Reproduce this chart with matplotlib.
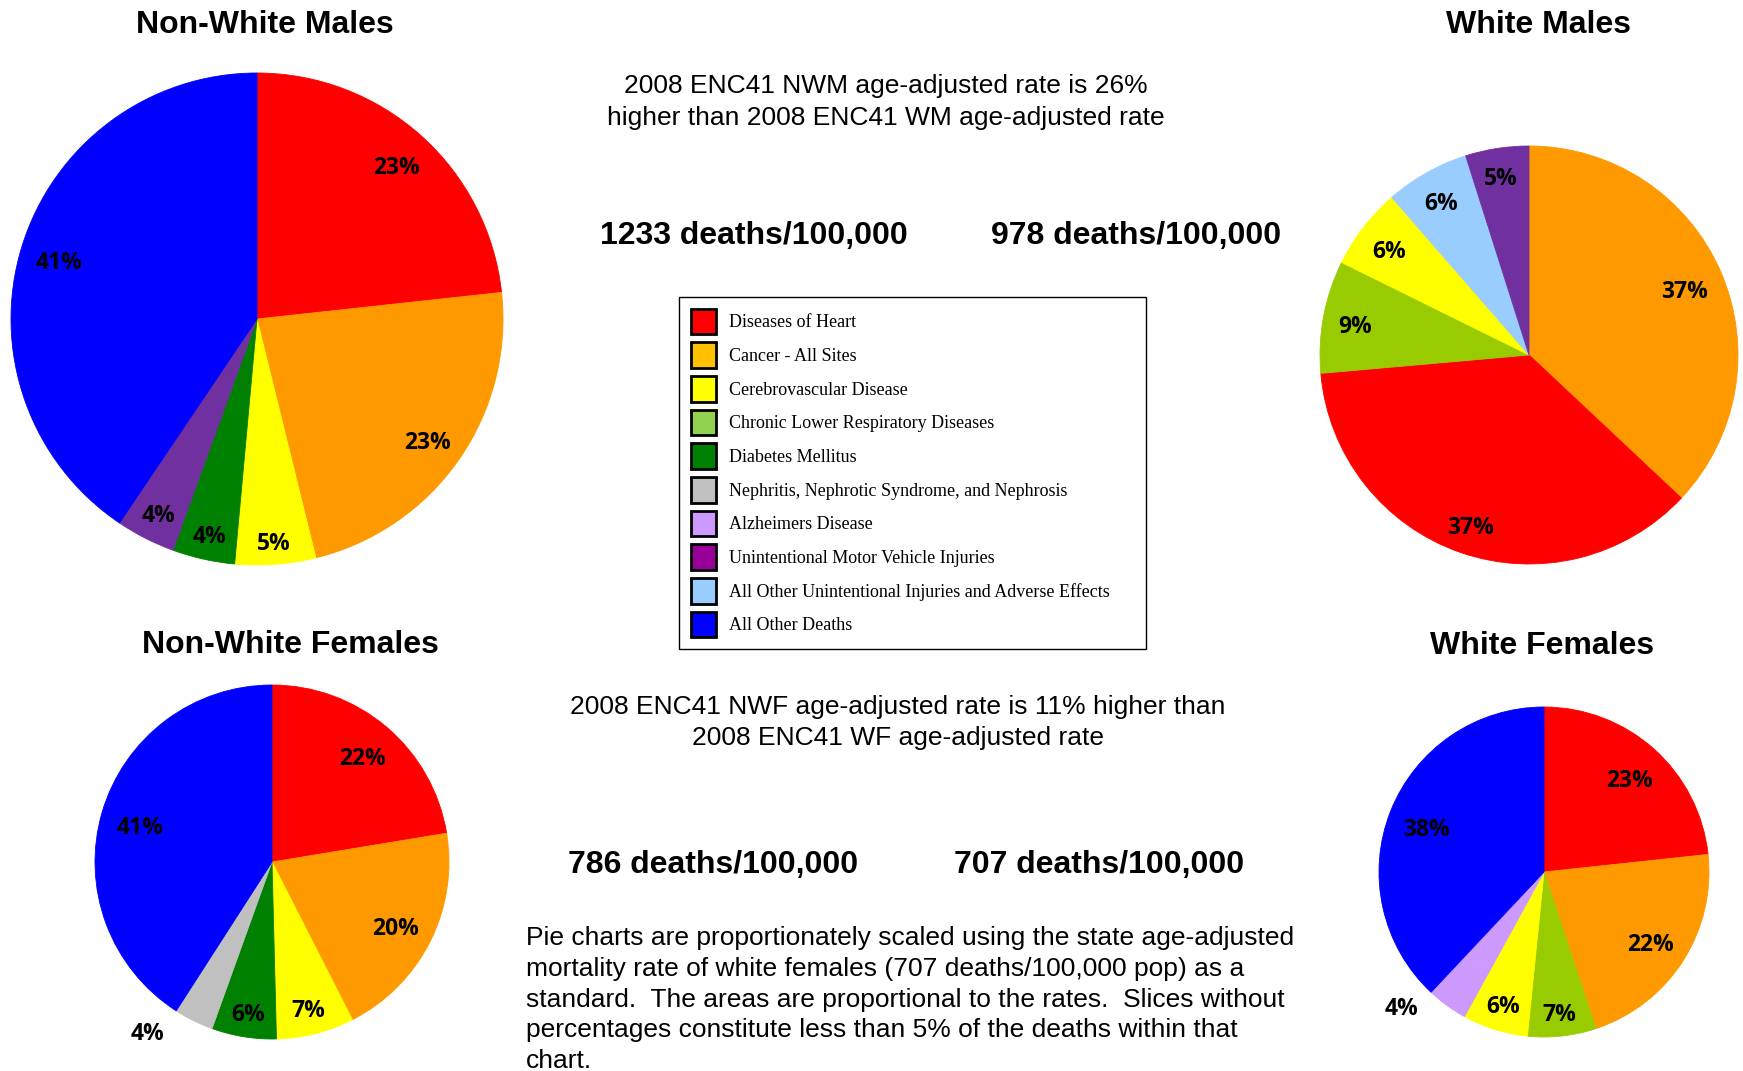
### Leading causes of death, ENC41 2008, by race and sex (proportionally scaled pies)

import numpy as np
import matplotlib
matplotlib.use("Agg")
import matplotlib.pyplot as plt
from matplotlib.patches import Patch

W, H = 1743, 1071   # output size in pixels

# CATEGORIES (legend order)
categories = [
    "Diseases of Heart",
    "Cancer - All Sites",
    "Cerebrovascular Disease",
    "Chronic Lower Respiratory Diseases",
    "Diabetes Mellitus",
    "Nephritis, Nephrotic Syndrome, and Nephrosis",
    "Alzheimers Disease",
    "Unintentional Motor Vehicle Injuries",
    "All Other Unintentional Injuries and Adverse Effects",
    "All Other Deaths",
]
legend_colors = ["#FF0000", "#FFC000", "#FFFF00", "#92D050", "#008000",
                 "#C0C0C0", "#CC99FF", "#990099", "#99CCFF", "#0000FF"]
pie_colors = ["#FF0000", "#FF9900", "#FFFF00", "#99CC00", "#008000",
              "#C0C0C0", "#CC99FF", "#7030A0", "#99CCFF", "#0000FF"]

# slices clockwise from 12 o'clock: category index + percent of deaths
nwm_slices = [0, 1, 2, 4, 7, 9]
nwm_values = [23.3, 22.9, 5.3, 4.1, 3.9, 40.6]

wm_slices = [1, 0, 3, 2, 8, 7]
wm_values = [37.0, 36.6, 8.7, 6.3, 6.5, 4.9]

nwf_slices = [0, 1, 2, 4, 5, 9]
nwf_values = [22.4, 20.1, 7.1, 5.9, 3.6, 40.9]

wf_slices = [0, 1, 3, 2, 6, 9]
wf_values = [23.3, 21.6, 6.7, 6.4, 4.0, 38.0]

# age-adjusted rates, deaths per 100,000
rate_nwm = 1233
rate_wm = 978
rate_nwf = 786
rate_wf = 707

sans = ["Liberation Sans", "DejaVu Sans"]
label_font = ["Open Sans", "DejaVu Sans"]

fig = plt.figure(figsize=(W / 100, H / 100), dpi=100)
ax = fig.add_axes([0, 0, 1, 1])
renderer = fig.canvas.get_renderer()


def draw_pie(cx, cy, r, slices, values):
    # cx, cy in pixels from top-left
    cols = [pie_colors[i] for i in slices]
    wedges, _ = ax.pie(values, colors=cols, startangle=90, counterclock=False,
                       center=(cx, H - cy), radius=r,
                       wedgeprops=dict(linewidth=0.6))
    for w, c in zip(wedges, cols):
        w.set_edgecolor(c)
    pct = np.array(values) / sum(values) * 100
    ends = np.cumsum(pct) * 3.6          # degrees clockwise from top
    starts = ends - pct * 3.6
    for p, a0, a1 in zip(pct, starts, ends):
        txt = ax.text(0, 0, f"{p:.0f}%", ha="center", va="center",
                      fontsize=16.5, fontweight="bold", family=label_font)
        arc = np.radians(a1 - a0) * r
        if arc > 50:
            # best fit: push label out until its far corner is near the rim
            t = np.radians((a0 + a1) / 2)
            sx, sy = abs(np.sin(t)), abs(np.cos(t))
            hw = txt.get_window_extent(renderer).width / 2
            hh = 9.0
            rr = r - 14
            b = sx * hw + sy * hh
            c = hw ** 2 + hh ** 2 - rr ** 2
            d = -b + np.sqrt(b * b - c)
        else:                              # too thin, put it outside
            t = np.radians(a1 + 4)
            d = 1.18 * r
        txt.set_position((cx + d * np.sin(t), H - cy + d * np.cos(t) - 4.5))


draw_pie(257, 319, 246, nwm_slices, nwm_values)
draw_pie(1529, 355, 209, wm_slices, wm_values)
draw_pie(272, 862, 177, nwf_slices, nwf_values)
draw_pie(1544, 872, 165, wf_slices, wf_values)

ax.set_xlim(0, W)
ax.set_ylim(0, H)
ax.axis("off")

# titles
for x, y, s in [(265, 25, "Non-White Males"), (1539, 25, "White Males"),
                (290, 645, "Non-White Females"), (1542, 646, "White Females")]:
    ax.text(x, H - y, s, ha="center", va="center", fontsize=23,
            fontweight="bold", family=sans)

# comparison notes
m_diff = (rate_nwm / rate_wm - 1) * 100
f_diff = (rate_nwf / rate_wf - 1) * 100
ax.text(886, H - 86.5, f"2008 ENC41 NWM age-adjusted rate is {m_diff:.0f}%",
        ha="center", va="center", fontsize=19, family=sans)
ax.text(886, H - 117.5, "higher than 2008 ENC41 WM age-adjusted rate",
        ha="center", va="center", fontsize=19, family=sans)
ax.text(898, H - 707, f"2008 ENC41 NWF age-adjusted rate is {f_diff:.0f}% higher than",
        ha="center", va="center", fontsize=19, family=sans)
ax.text(898, H - 737.5, "2008 ENC41 WF age-adjusted rate",
        ha="center", va="center", fontsize=19, family=sans)

for x, y, rate in [(754, 236, rate_nwm), (1136, 236, rate_wm),
                   (713, 864.5, rate_nwf), (1099, 864.5, rate_wf)]:
    ax.text(x, H - y, f"{rate} deaths/100,000", ha="center", va="center",
            fontsize=23, fontweight="bold", family=sans)

para = [
    "Pie charts are proportionately scaled using the state age-adjusted",
    f"mortality rate of white females ({rate_wf} deaths/100,000 pop) as a",
    "standard.  The areas are proportional to the rates.  Slices without",
    "percentages constitute less than 5% of the deaths within that",
    "chart.",
]
for i, line in enumerate(para):
    ax.text(526, H - (938.5 + i * 30.6), line, ha="left", va="center",
            fontsize=19, family=sans)

# legend
handles = [Patch(facecolor=c, edgecolor="black", linewidth=2) for c in legend_colors]
leg = ax.legend(handles, categories, loc="upper left", mode="expand",
                bbox_to_anchor=(679 / W, 0, (1146 - 679) / W, 1 - 297 / H),
                borderaxespad=0, borderpad=0.65, handlelength=1.42,
                handleheight=1.80, labelspacing=0.45, handletextpad=0.72,
                fancybox=False, framealpha=1,
                prop=dict(family=["Liberation Serif", "DejaVu Serif"], size=13))
leg.get_frame().set_edgecolor("black")
leg.get_frame().set_linewidth(1.0)

fig.savefig("out.png", dpi=100)
